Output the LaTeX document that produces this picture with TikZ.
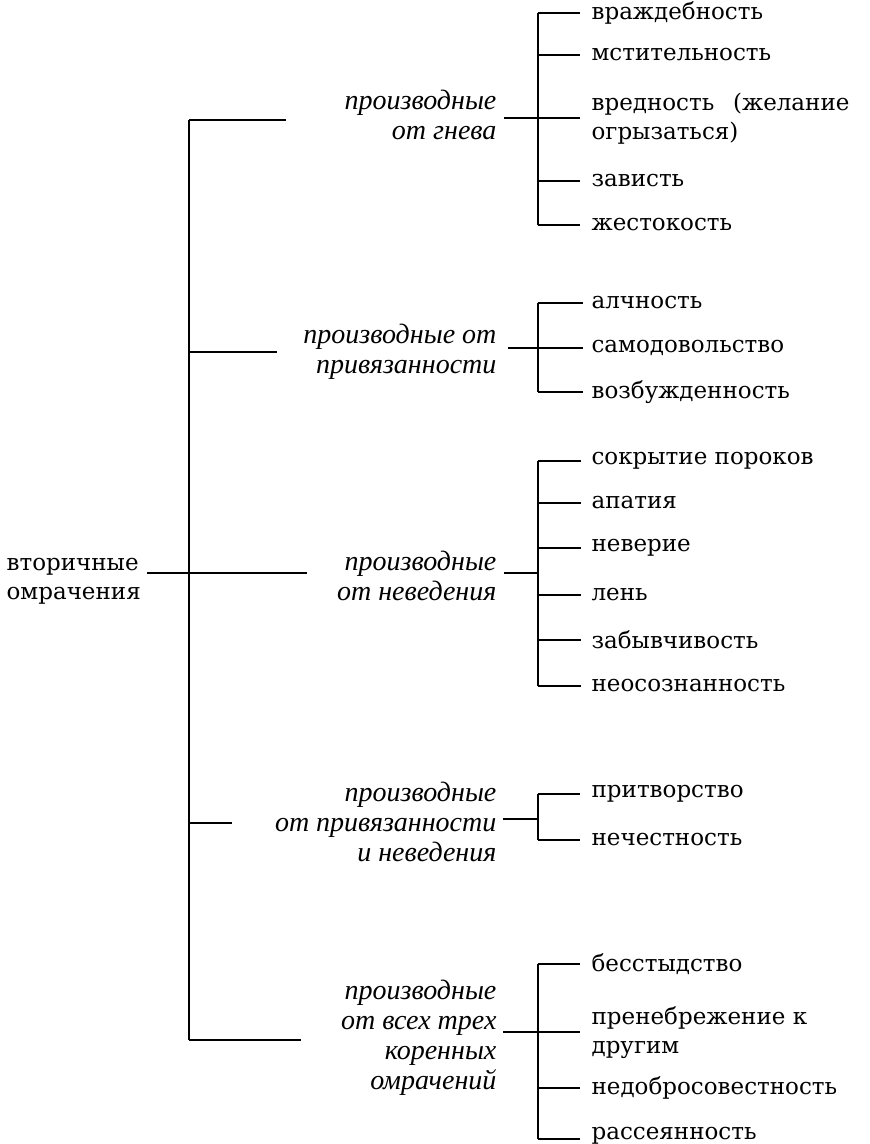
\documentclass[tikz,border=0pt]{standalone}
\usepackage{fontspec}
\setmainfont{DejaVu Serif}
\newfontfamily\grpfont{Liberation Serif}

\begin{document}
\begin{tikzpicture}[x=1pt,y=-1pt,line width=1.2pt,
  item/.style={anchor=west,inner sep=0pt,align=left,font=\fontsize{23}{29}\selectfont},
  group/.style={anchor=east,inner sep=0pt,align=right,font=\grpfont\fontsize{28}{30}\selectfont\itshape}]
  \useasboundingbox (0,0) rectangle (870,1144);
  % root and trunk
  \node[item] (root) at (6,581) {вторичные\\омрачения};
  \coordinate (t1) at (189,120); \coordinate (t2) at (189,352); \coordinate (t3) at (189,573);
  \coordinate (t4) at (189,823); \coordinate (t5) at (189,1040);
  \coordinate (r0) at (147,573); \coordinate (r1) at (307,573);
  \draw (t1) -- (t5) (r0) -- (r1);
  \coordinate (b1) at (286,120); \coordinate (b2) at (277,352); \coordinate (b4) at (232,823); \coordinate (b5) at (301,1040);
  \draw (t1) -- (b1) (t2) -- (b2) (t4) -- (b4) (t5) -- (b5);
  % groups
  \node[group] (g1) at (497,115) {производные\\от гнева};
  \node[group] (g2) at (497,352) {производные от\\привязанности};
  \node[group] (g3) at (497,576) {производные\\от неведения};
  \node[group] (g4) at (497,822) {производные\\от привязанности\\и неведения};
  \node[group] (g5) at (497,1038) {производные\\от всех трех\\коренных\\омрачений};
  \coordinate (j1) at (538,118); \coordinate (j2) at (538,348); \coordinate (j3) at (538,573);
  \coordinate (j4) at (538,819); \coordinate (j5) at (538,1032);
  \draw ([xshift=7pt]g1.east |- j1) -- (j1) ([xshift=11pt]g2.east |- j2) -- (j2)
        ([xshift=7pt]g3.east |- j3) -- (j3) ([xshift=6pt]g4.east |- j4) -- (j4)
        ([xshift=6pt]g5.east |- j5) -- (j5);
  % leaves
  \node[item] (a11) at (591,13) {враждебность};
  \node[item] (a12) at (591,55) {мстительность};
  \node[item] (a13) at (591,119) {вредность\hspace{.5em} (желание\\огрызаться)};
  \node[item] (a14) at (591,181) {зависть};
  \node[item] (a15) at (591,225) {жестокость};
  \node[item] (a21) at (591,303) {алчность};
  \node[item] (a22) at (591,348) {самодовольство};
  \node[item] (a23) at (591,392) {возбужденность};
  \node[item] (a31) at (591,461) {сокрытие пороков};
  \node[item] (a32) at (591,503) {апатия};
  \node[item] (a33) at (591,548) {неверие};
  \node[item] (a34) at (591,595) {лень};
  \node[item] (a35) at (591,640) {забывчивость};
  \node[item] (a36) at (591,686) {неосознанность};
  \node[item] (a41) at (591,794) {притворство};
  \node[item] (a42) at (591,840) {нечестность};
  \node[item] (a51) at (591,964) {бесстыдство};
  \node[item] (a52) at (591,1033) {пренебрежение к\\другим};
  \node[item] (a53) at (591,1088) {недобросовестность};
  \node[item] (a54) at (591,1136) {рассеянность};
  \draw (j1 |- a11) -- (j1 |- a15) (j2 |- a21) -- (j2 |- a23) (j3 |- a31) -- (j3 |- a36)
        (j4 |- a41) -- (j4 |- a42) (j5 |- a51) -- (j5 |- 0,1139);
  \draw (j1 |- a11) -- ([xshift=-11pt]a11.west) (j1 |- a12) -- ([xshift=-11pt]a12.west)
        (j1 |- 0,118) -- (580,118) (j1 |- a14) -- ([xshift=-11pt]a14.west)
        (j1 |- a15) -- ([xshift=-11pt]a15.west);
  \draw (j2 |- a21) -- ([xshift=-8pt]a21.west) (j2 |- a22) -- ([xshift=-8pt]a22.west)
        (j2 |- a23) -- ([xshift=-8pt]a23.west);
  \draw (j3 |- a31) -- ([xshift=-10pt]a31.west) (j3 |- a32) -- ([xshift=-10pt]a32.west)
        (j3 |- a33) -- ([xshift=-10pt]a33.west) (j3 |- a34) -- ([xshift=-10pt]a34.west)
        (j3 |- a35) -- ([xshift=-10pt]a35.west) (j3 |- a36) -- ([xshift=-10pt]a36.west);
  \draw (j4 |- a41) -- ([xshift=-11pt]a41.west) (j4 |- a42) -- ([xshift=-11pt]a42.west);
  \draw (j5 |- a51) -- ([xshift=-11pt]a51.west) (j5 |- 0,1032) -- (580,1032)
        (j5 |- a53) -- ([xshift=-11pt]a53.west) (j5 |- 0,1139) -- (580,1139);
\end{tikzpicture}
\end{document}
